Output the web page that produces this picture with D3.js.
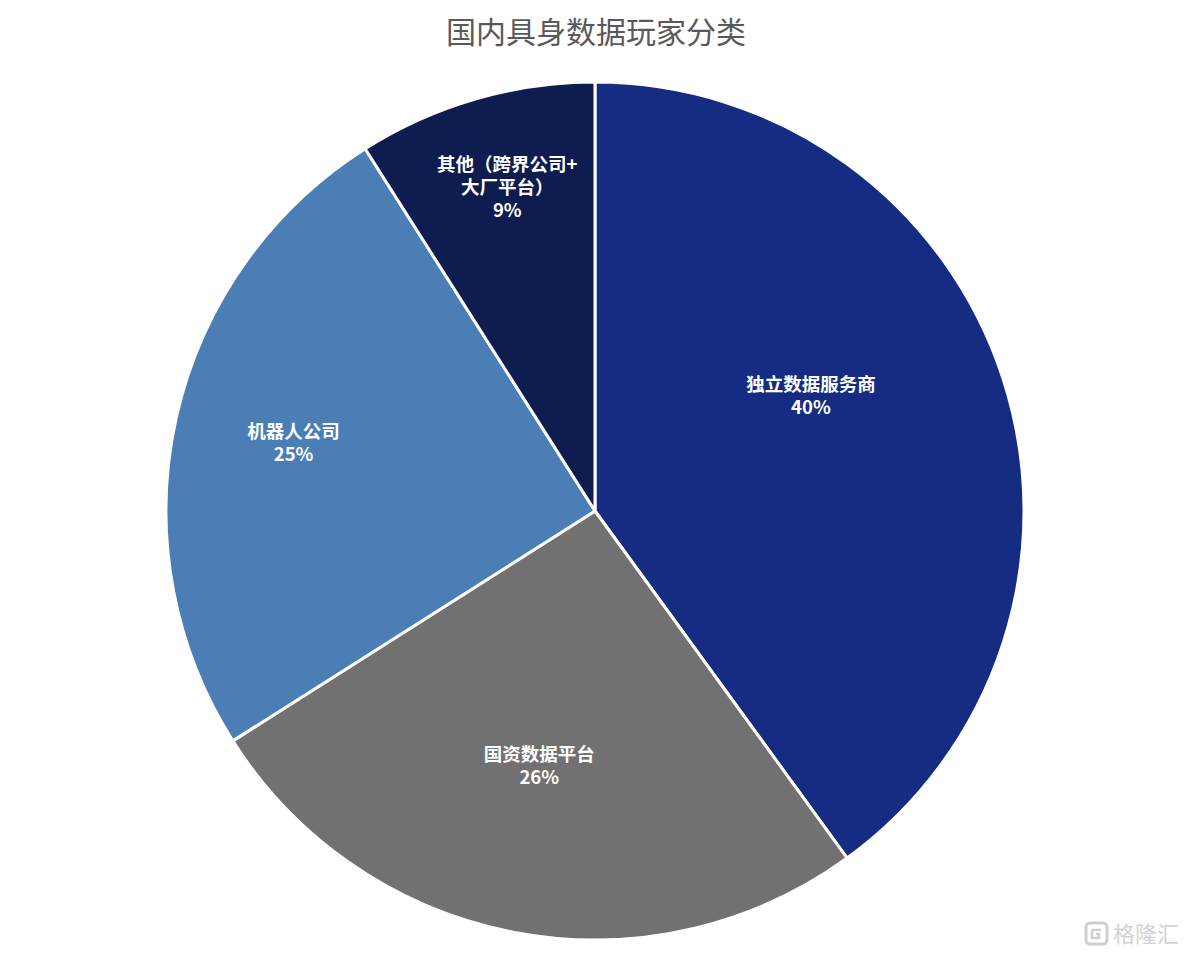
<!DOCTYPE html>
<html>
<head>
<meta charset="utf-8">
<script src="https://cdn.jsdelivr.net/npm/d3@7/dist/d3.min.js"></script>
<style>
  body { margin: 0; background: #fff; }
  svg { display: block; }
</style>
</head>
<body>
<div id="grafico"></div>
<script>
// ==============================
// DATOS
// ==============================
const categorias = ["独立数据服务商", "国资数据平台", "机器人公司", "其他（跨界公司+大厂平台）"];
const valores = [40, 26, 25, 9];
const etiquetas = [["独立数据服务商", "40%"], ["国资数据平台", "26%"], ["机器人公司", "25%"], ["其他（跨界公司+", "大厂平台）", "9%"]];
const colores = ["#152c82", "#717171", "#4a7eb5", "#0f1c4f"];
// posición de etiquetas: [fracción de radio, desplazamiento de ángulo en grados]
const posEtiquetas = [[0.57, -10], [0.61, 1.5], [0.72, 0], [0.78, 1]];

// ==============================
// SVG BASE
// ==============================
const W = 1186, H = 960;
const cx = 595, cy = 511, R = 429;

const svg = d3.select("#grafico").append("svg")
  .attr("width", W)
  .attr("height", H);

svg.append("text")
  .attr("x", cx + 1)
  .attr("y", 43)
  .attr("text-anchor", "middle")
  .attr("font-family", "'Noto Sans CJK SC', sans-serif")
  .attr("font-size", 30)
  .attr("fill", "#595959")
  .text("国内具身数据玩家分类");

const g = svg.append("g").attr("transform", `translate(${cx},${cy})`);

const pie = d3.pie().sort(null).value(d => d);
const arcs = pie(valores);
const arc = d3.arc().innerRadius(0).outerRadius(R);

g.selectAll("path")
  .data(arcs)
  .join("path")
  .attr("d", arc)
  .attr("fill", (d, i) => colores[i])
  .attr("stroke", "#fff")
  .attr("stroke-width", 3)
  .attr("stroke-linejoin", "round");

// Etiquetas
arcs.forEach((d, i) => {
  const [fr, shift] = posEtiquetas[i];
  const ang = (d.startAngle + d.endAngle) / 2 + shift * Math.PI / 180;
  const x = Math.sin(ang) * R * fr;
  const y = -Math.cos(ang) * R * fr;
  const lineas = etiquetas[i];
  const lh = 23;
  const t = g.append("text")
    .attr("text-anchor", "middle")
    .attr("font-family", "'Noto Sans CJK SC', sans-serif")
    .attr("font-weight", "bold")
    .attr("font-size", 18.5)
    .attr("fill", "#fff");
  lineas.forEach((l, k) => {
    t.append("tspan")
      .attr("x", x)
      .attr("y", y + (k - (lineas.length - 1) / 2) * lh + 6)
      .text(l);
  });
});

// Marca de agua
const wm = svg.append("g").attr("transform", "translate(1085,922)");
wm.append("rect")
  .attr("x", 1).attr("y", 1).attr("width", 21).attr("height", 21).attr("rx", 4)
  .attr("fill", "none").attr("stroke", "#cfcfcf").attr("stroke-width", 3);
wm.append("path")
  .attr("d", "M7,8 H16 M7,8 V16 H14 V12 H11")
  .attr("fill", "none").attr("stroke", "#cfcfcf").attr("stroke-width", 2.5);
wm.append("text")
  .attr("x", 28).attr("y", 20)
  .attr("font-family", "'Noto Sans CJK SC', sans-serif")
  .attr("font-size", 22)
  .attr("fill", "#d2d2d2")
  .text("格隆汇");
</script>
</body>
</html>
